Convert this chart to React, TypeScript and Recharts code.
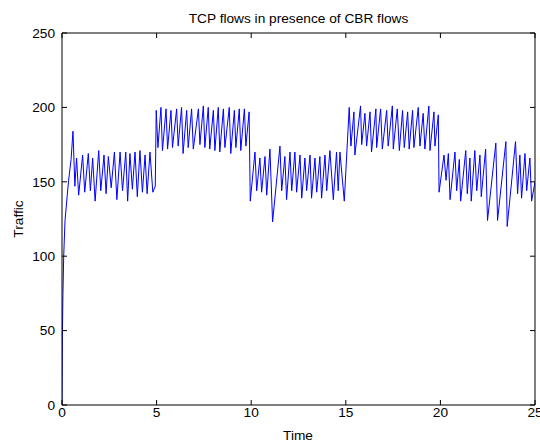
import { LineChart, Line, XAxis, YAxis } from 'recharts';

// time (s), traffic, one array per 5 s stretch
const rampTo5: [number, number][] = [
  [0, 0], [0.02, 45], [0.05, 75], [0.09, 100], [0.16, 124], [0.27, 140], [0.35, 151],
  [0.48, 165], [0.58, 184], [0.68, 147], [0.77, 166], [0.88, 141], [1.09, 168], [1.2, 143],
  [1.39, 169], [1.5, 144], [1.62, 166], [1.75, 137], [1.94, 171], [2.05, 144], [2.22, 168],
  [2.33, 142], [2.45, 167], [2.6, 146], [2.77, 170], [2.9, 138], [3.07, 170], [3.2, 144],
  [3.37, 170], [3.47, 137], [3.59, 169], [3.72, 145], [3.86, 170], [3.98, 140], [4.12, 171],
  [4.25, 143], [4.39, 168], [4.5, 142], [4.65, 170], [4.8, 143], [4.93, 147],
];

const from5to10: [number, number][] = [
  [4.98, 198], [5.07, 173], [5.23, 200], [5.31, 171], [5.5, 199], [5.58, 172], [5.76, 198],
  [5.84, 173], [6.06, 199], [6.14, 174], [6.32, 200], [6.4, 169], [6.59, 198], [6.67, 173],
  [6.85, 199], [6.94, 172], [7.21, 199], [7.29, 175], [7.47, 201], [7.55, 173], [7.73, 200],
  [7.81, 172], [8.0, 198], [8.08, 171], [8.26, 200], [8.34, 170], [8.53, 199], [8.61, 173],
  [8.84, 200], [8.92, 169], [9.11, 198], [9.19, 173], [9.37, 199], [9.45, 171], [9.64, 199],
  [9.72, 174], [9.89, 197],
];

const from10to15: [number, number][] = [
  [9.95, 137], [10.2, 170], [10.29, 144], [10.46, 166], [10.55, 143], [10.73, 167],
  [10.82, 141], [10.99, 172], [11.13, 123], [11.52, 174], [11.61, 144], [11.78, 167],
  [11.87, 138], [12.05, 170], [12.14, 144], [12.31, 170], [12.4, 143], [12.58, 168],
  [12.67, 139], [12.84, 166], [12.93, 144], [13.11, 168], [13.19, 139], [13.37, 166],
  [13.46, 143], [13.63, 167], [13.72, 139], [13.9, 168], [13.99, 144], [14.16, 171],
  [14.34, 138], [14.51, 170], [14.6, 144], [14.69, 170], [14.92, 137],
];

const from15to20: [number, number][] = [
  [15.18, 200], [15.27, 174], [15.43, 197], [15.48, 168], [15.78, 201], [15.84, 175],
  [16.01, 196], [16.1, 174], [16.28, 197], [16.36, 170], [16.59, 199], [16.63, 173],
  [16.84, 199], [16.93, 172], [17.16, 198], [17.24, 174], [17.46, 201], [17.51, 172],
  [17.72, 199], [17.83, 171], [18.0, 198], [18.09, 173], [18.27, 197], [18.35, 172],
  [18.53, 198], [18.6, 173], [18.83, 200], [18.92, 174], [19.09, 196], [19.18, 172],
  [19.39, 201], [19.45, 171], [19.66, 197], [19.71, 174], [19.89, 195],
];

const from20to25: [number, number][] = [
  [19.93, 143], [20.19, 168], [20.3, 151], [20.42, 169], [20.51, 138], [20.77, 170],
  [20.86, 144], [21.0, 165], [21.07, 137], [21.34, 171], [21.42, 142], [21.56, 166],
  [21.63, 137], [21.82, 171], [21.92, 144], [22.09, 168], [22.16, 140], [22.39, 172],
  [22.49, 124], [22.93, 176], [23.02, 124], [23.46, 177], [23.53, 120], [23.97, 177],
  [24.08, 142], [24.2, 168], [24.29, 139], [24.47, 169], [24.56, 144], [24.73, 166],
  [24.82, 137], [25.0, 150],
];

const xTicks = [0, 5, 10, 15, 20, 25];
const yTicks = [0, 50, 100, 150, 200, 250];

const data = [...rampTo5, ...from5to10, ...from10to15, ...from15to20, ...from20to25].map(
  ([t, traffic]) => ({ t, traffic })
);

const font = '"Liberation Sans", Arial, sans-serif';
const fs = 13.7;
const blank = () => '';

export default function App() {
  return (
    <div
      style={{
        position: 'absolute',
        left: 0,
        top: 0,
        width: 540,
        height: 443,
        background: '#fff',
        fontFamily: font,
      }}
    >
      <div
        style={{
          position: 'absolute',
          left: 62,
          width: 473,
          top: 11,
          textAlign: 'center',
          fontSize: fs,
          color: '#000',
        }}
      >
        TCP flows in presence of CBR flows
      </div>
      <LineChart
        width={540}
        height={443}
        data={data}
        margin={{ top: 28, right: 0, bottom: 0, left: 0 }}
      >
        <XAxis
          xAxisId="bottom"
          dataKey="t"
          type="number"
          domain={[0, 25]}
          ticks={xTicks}
          interval={0}
          allowDataOverflow
          height={38}
          tickSize={-5}
          tickMargin={7}
          stroke="#000"
          tick={{ fill: '#000', fontSize: fs, fontFamily: font }}
          label={() => (
            <text x={298} y={440} textAnchor="middle" fontSize={fs} fontFamily={font} fill="#000">
              Time
            </text>
          )}
        />
        <XAxis
          xAxisId="top"
          orientation="top"
          dataKey="t"
          type="number"
          domain={[0, 25]}
          ticks={xTicks}
          interval={0}
          allowDataOverflow
          height={5}
          tickSize={-5}
          tickFormatter={blank}
          stroke="#000"
        />
        <YAxis
          yAxisId="left"
          type="number"
          domain={[0, 250]}
          ticks={yTicks}
          interval={0}
          allowDataOverflow
          width={62}
          tickSize={-5}
          tickMargin={12}
          stroke="#000"
          tick={{ fill: '#000', fontSize: fs, fontFamily: font }}
          label={() => (
            <text
              x={23}
              y={219}
              transform="rotate(-90 23 219)"
              textAnchor="middle"
              fontSize={fs}
              fontFamily={font}
              fill="#000"
            >
              Traffic
            </text>
          )}
        />
        <YAxis
          yAxisId="right"
          orientation="right"
          type="number"
          domain={[0, 250]}
          ticks={yTicks}
          interval={0}
          allowDataOverflow
          width={5}
          tickSize={-5}
          tickFormatter={blank}
          stroke="#000"
        />
        <Line
          xAxisId="bottom"
          yAxisId="left"
          type="linear"
          dataKey="traffic"
          stroke="#0000ff"
          strokeWidth={1}
          dot={false}
          isAnimationActive={false}
        />
      </LineChart>
    </div>
  );
}
